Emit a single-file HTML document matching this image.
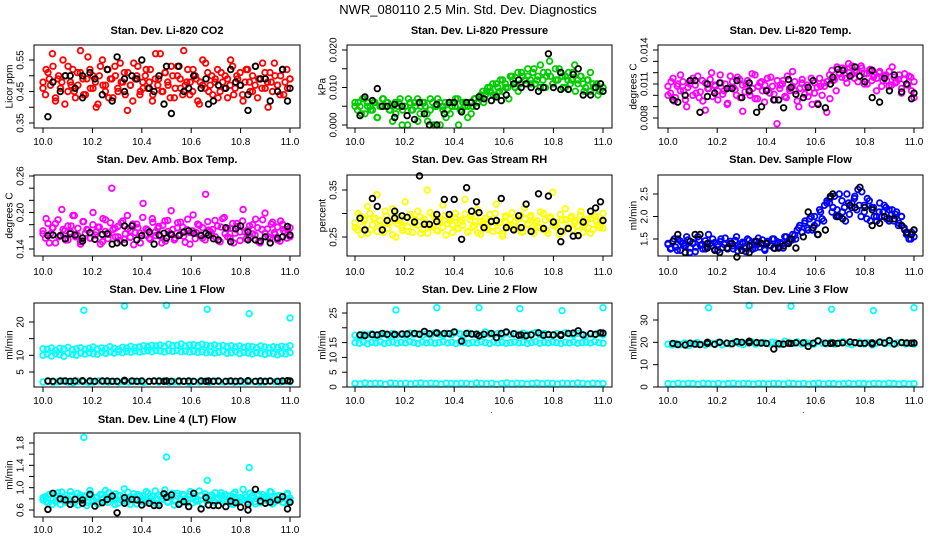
<!DOCTYPE html>
<html><head><meta charset="utf-8">
<style>
html,body{margin:0;padding:0;background:#fff;}
svg{display:block;font-family:"Liberation Sans",Arial,sans-serif;}
</style></head>
<body>
<svg id="chart" width="936" height="540" viewBox="0 0 936 540" xmlns="http://www.w3.org/2000/svg">
<rect x="0" y="0" width="936" height="540" fill="#fff"/>
<text x="468" y="14" text-anchor="middle" font-size="13">NWR_080110  2.5 Min. Std. Dev. Diagnostics</text>
</svg>
<script>
const blackX = [10.02,10.04,10.07,10.09,10.11,10.13,10.16,10.16,10.19,10.21,10.24,10.26,10.28,10.30,10.33,10.33,10.36,10.38,10.40,10.43,10.45,10.47,10.49,10.50,10.52,10.55,10.57,10.59,10.61,10.64,10.66,10.67,10.69,10.71,10.74,10.76,10.78,10.80,10.83,10.83,10.86,10.88,10.90,10.92,10.95,10.97,10.99,11.0];
const xTicks = [10.0,10.2,10.4,10.6,10.8,11.0];
const xTickLabels = ["10.0","10.2","10.4","10.6","10.8","11.0"];
const outlierX = [10.165,10.33,10.5,10.665,10.835,11.0];

const co2 = [46,52,49,57,43,50,48,41,53,47,45,51,58,44,49,52,46,40,50,55,47,43,49,53,45,48,51,39,47,54,50,44,46,52,48,42,57,49,45,51,47,53,43,50,46,58,48,44,52,49,41,47,54,45,50,48,43,51,46,49,55,44,50,47,42,52,48,45,53,49,46,51,40,48,54,47,50,44,52,49];
const co2b = [48,44,51,47,53,42,49,46,55,50,45,48,52,43,47,51,49,44,56,46,50,48,41,53,47,45,52,49,43,50,46,54,48,44,51,47,42,49,53,45,48,50,46,52,44,49,47,57,45,51,48,43,50,46,53,49,44,47,52,48,45,50,42,48,55,46,51,47,44,49,52,45,48,50,43,47,53,46,49,51,44,48,52,45,50,47,43,49,54,46,48,51,45,50,47,44,52,48,46,49];
const co2Black = [37,48,45,50,50,46,43,50,51,49,44,52,42,56,45,49,50,49,55,46,45,50,41,53,38,53,45,46,50,46,49,41,42,47,46,52,48,47,44,39,53,49,49,42,45,52,42,46];
const pres = [5,6,3,7,5,4,6,2,5,7,6,4,5,3,6,0,5,7,4,6,1,5,6,3,7,0,5,6,4,2,6,5,7,0,4,6,5,3,7,6,8,6,9,10,8,11,9,12,10,7,13,11,9,14,12,13,11,15,12,10,14,13,17,11,12,15,13,10,14,12,16,11,13,9,12,14,10,11,9,10];
const presb = [6,4,5,7,3,6,5,4,6,2,5,7,5,6,4,1,6,5,7,4,5,0,6,4,5,7,3,6,5,1,4,6,5,7,0,5,6,4,3,6,5,7,4,6,5,2,6,5,7,6,7,9,8,10,9,11,8,10,12,9,11,10,13,12,10,14,11,13,12,15,12,14,11,13,16,12,10,14,13,11,15,12,14,10,13,12,11,14,9,12,13,11,10,12,9,11,10,8,11,10];
const presBlack = [2.5,7.5,6.5,9.7,5,5,2,5.5,5,2.5,1.5,6,3,0,5.5,0,3,6,6,3.5,6,6,5,7.5,7,6.5,7.5,6.5,8,11,12,10,11,10,9,10,19,10,9.5,14,9.5,13.5,15,8,8,10,11,9];
const ltemp = [100,112,95,108,118,104,90,110,115,102,98,113,87,106,120,109,96,111,104,92,117,107,100,114,86,110,103,119,97,108,112,94,105,116,101,75,109,113,98,106,121,104,90,111,107,99,115,102,93,108,111,85,97,113,104,120,124,115,128,118,122,112,126,119,110,123,116,104,121,113,118,108,125,111,114,102,119,109,116,98];
const ltempb = [108,102,115,98,110,104,112,96,107,113,100,109,117,103,95,111,106,114,99,108,104,118,101,110,93,107,112,105,116,98,109,103,113,100,106,118,97,111,104,109,115,102,108,96,113,106,110,99,117,104,108,112,95,106,114,101,109,103,92,111,107,115,100,108,112,118,122,114,125,119,116,123,111,120,126,115,121,117,124,110,119,122,113,118,115,120,108,117,113,121,109,116,112,118,106,114,110,117,104,112];
const ltempBlack = [96,94,100,113,113,85,110,99,102,111,106,106,113,98,104,111,85,90,104,96,96,89,114,107,101,98,107,113,92,89,110,116,123,122,117,125,117,112,98,122,94,115,104,118,103,110,97,102];
const btemp = [165,190,150,175,182,160,205,170,155,178,195,163,148,185,172,158,200,168,176,152,188,164,240,174,160,183,156,195,170,147,181,166,215,173,158,190,162,177,150,186,169,203,155,175,184,161,172,148,196,167,179,158,230,171,163,187,154,176,192,160,174,150,182,168,205,157,178,165,189,152,172,199,160,181,167,155,186,170,158,175];
const btempb = [170,158,182,165,175,150,188,162,172,155,178,168,195,160,174,152,185,166,171,158,180,163,176,148,190,169,157,183,172,160,177,154,186,165,173,159,181,167,175,150,192,163,171,156,184,168,174,161,179,153,187,166,172,158,183,164,176,151,189,167,170,157,181,163,175,155,185,169,172,160,178,152,190,165,173,158,182,166,177,154,186,168,171,159,180,163,175,150,188,166,173,157,184,164,176,153,181,167,172,160];
const btempBlack = [162,163,162,157,165,163,153,158,167,156,164,165,148,150,178,150,178,155,162,168,148,163,166,158,164,162,168,170,166,162,166,163,157,155,175,152,173,178,155,168,155,153,160,150,158,160,177,163];
const rh = [270,300,255,285,315,265,290,340,275,260,295,280,310,250,285,270,325,262,292,278,305,258,288,350,272,296,264,282,318,254,290,276,300,268,286,330,260,294,274,308,256,284,270,298,262,320,280,252,292,276,302,266,288,260,312,278,296,258,284,270,300,264,290,345,275,256,286,310,268,294,280,262,304,274,288,258,296,282,270,300];
const rhb = [280,265,295,272,288,258,300,276,290,262,285,270,305,268,282,255,296,278,290,264,284,272,298,260,287,275,293,266,281,258,302,274,289,263,286,270,296,278,284,260,292,268,282,275,299,262,287,271,294,259,283,276,290,266,285,272,300,264,281,257,295,273,288,267,284,270,297,261,289,276,292,264,280,272,303,266,286,258,293,275,282,268,298,262,287,271,290,265,284,274,296,260,281,270,289,266,294,275,283,269];
const rhBlack = [290,265,332,315,265,285,305,290,295,292,282,380,277,277,298,283,330,298,330,245,355,305,325,302,270,283,285,332,270,265,295,270,320,262,342,268,337,282,262,240,268,252,253,282,305,312,325,285];
const sflow = [140,130,150,125,145,135,155,120,140,132,148,138,128,160,135,142,125,150,138,130,145,128,155,133,140,122,147,136,130,152,140,128,145,135,150,138,142,130,155,145,160,150,175,165,190,170,200,180,160,210,190,230,240,220,200,250,210,190,230,220,245,260,200,225,240,190,220,200,230,210,220,190,215,205,180,200,170,160,150,170];
const sflowb = [138,128,145,132,150,125,140,135,148,130,142,122,155,136,128,146,133,140,150,126,138,144,131,152,128,140,135,147,124,139,143,130,150,134,127,145,138,132,148,125,141,136,150,129,144,133,139,155,142,150,148,158,170,180,165,185,175,195,170,200,185,215,195,225,235,230,210,245,215,200,235,220,250,205,230,240,215,225,255,210,195,235,220,200,190,210,200,225,195,215,205,190,210,185,200,175,160,150,165,155];
const sflowBlack = [145,160,120,145,160,160,130,140,125,120,130,140,110,125,120,135,145,140,140,130,130,135,140,150,130,155,210,175,160,170,245,250,200,195,225,220,265,220,215,180,185,200,195,195,180,165,160,170];
const l1Upper = [120,118,122,115,121,119,124,117,120,123,118,121,125,119,122,120,126,121,118,124,122,127,123,125,129,126,130,128,131,127,133,129,130,134,128,131,132,129,133,130,128,131,127,130,126,129,125,128,124,127,126,123,128,125,122,126,124,127,125,129];
const l1Lower = [100,104,98,105,102,97,106,103,100,107,104,108,105,103,109,106,110,107,111,108,112,109,113,110,112,114,111,115,113,110,114,112,115,111,113,110,112,109,111,108,110,107,109,112,106,108,111,105,109,107,104,108,106,103,107,105,102,106,104,108];
const l1Low = [20,22,19,21,23,20,18,22,21,19,20,23,21,20,22,19,21,20,22,21,19,21,22,20,23,19,21,20,22,18,21,20,22,19,23,21,20,22,19,21,20,22,21,19,20,23,21,20,22,21];
const l1Out = [235,248,250,238,225,212];
const l1Black = [23,22,23,23,22,23,24,23,23,22,23,23,22,22,25,23,23,22,23,22,23,23,22,23,22,23,22,23,22,23,22,23,22,23,22,23,22,23,23,24,22,23,22,23,22,23,24,23];
const l2Upper = [175,172,178,176,180,174,177,179,173,181,176,178,175,182,177,179,174,180,176,183,178,175,181,177,185,179,176,182,178,180,174,186,179,177,181,175,183,178,180,176,182,177,179,184,176,181,178,175,180,177,183,179,176,181,178,174,180,177,182,176];
const l2Mid = [150,148,152,146,151,149,153,147,150,152,148,151,149,153,150,147,152,149,151,148,150,153,149,151,147,152,150,148,151,149,153,150,147,152,149,151,148,150,152,149,151,147,150,153,148,151,149,152,150,147,151,149,152,148,150,151,149,153,150,148];
const l2Low = [12,10,14,11,13,12,9,14,12,11,13,10,12,14,11,13,12,10,13,12,11,13,12,10,14,12,11,13,9,12,14,11,13,12,10,12,14,11,13,12,10,13,12,11,14,12,10,13,11,12];
const l2Out = [260,268,268,265,258,268];
const l2Black = [176,174,177,176,181,178,177,178,179,179,181,178,188,180,182,183,181,180,186,155,181,179,178,173,178,181,167,181,186,180,175,176,173,176,183,175,177,176,174,177,181,182,190,176,180,178,183,182];
const l3Upper = [192,188,195,190,197,186,193,199,191,188,196,194,200,189,197,193,201,195,190,198,203,192,196,199,194,201,197,190,205,198,195,202,193,199,196,191,204,197,194,200,192,198,203,195,190,197,201,193,199,188,196,202,194,198,191,197,200,193,196,192];
const l3Low = [15,13,17,14,16,15,12,17,15,14,16,13,15,17,14,16,15,13,16,15,14,16,15,13,17,15,14,16,12,15,17,14,16,15,13,15,17,14,16,15,13,16,15,14,17,15,13,16,14,15];
const l3Out = [355,365,362,348,342,355];
const l3Black = [195,190,188,196,192,190,195,200,191,200,196,194,203,200,198,205,199,197,195,170,194,192,196,195,198,198,182,196,207,196,195,197,195,198,202,199,195,196,193,198,201,197,208,193,199,197,196,197];
const l4 = [82,75,88,70,85,78,92,74,80,86,72,90,77,84,68,95,79,83,73,88,76,91,81,70,86,78,98,74,82,89,71,85,79,93,76,84,72,87,80,96,75,83,69,90,78,86,73,88,81,76,94,70,84,79,87,74,82,91,77,85,72,89,80,75,97,83,78,86,71,88,76,84,80,92,74,85,79,73,87,81];
const l4b = [78,84,72,88,80,75,91,70,83,86,77,93,74,81,69,87,79,85,73,90,76,82,71,88,80,95,74,84,78,89,72,86,80,76,92,70,83,79,88,75,85,73,90,81,77,94,71,84,79,87,74,82,90,76,85,72,88,80,78,93,73,84,79,86,71,89,77,83,75,91,80,86,72,88,78,84,70,92,76,82,79,87,74,90,81,75,85,73,88,80,77,93,71,84,79,86,74,82,90,77];
const l4OutX = [10.165,10.5,10.665,10.835];
const l4Out = [190,155,113,136];
const l4Black = [61,90,80,78,70,79,72,78,88,67,73,79,85,55,82,72,79,78,69,72,68,68,89,83,87,70,75,66,90,62,82,69,68,68,66,76,73,65,70,60,97,76,72,74,78,84,62,74];

const NS = "http://www.w3.org/2000/svg";
const svg = document.getElementById('chart');
function mk(tag, attrs, parent){const e=document.createElementNS(NS,tag);for(const k in attrs)e.setAttribute(k,attrs[k]);(parent||svg).appendChild(e);return e;}

const cols = [{f0:34,f1:300,x10:43,x11:290},{f0:347,f1:612,x10:355,x11:603},{f0:658,f1:923,x10:668,x11:914}];
const rows = [{t:45,b:128,title:34,xl:145},{t:175,b:256,title:163,xl:275},{t:303,b:387,title:293,xl:404},{t:433,b:517,title:423,xl:533}];

const panels = [
 {slug:"co2",title:"Stan. Dev. Li-820 CO2",ylab:"Licor ppm",r:0,c:0,yA:0.55,pA:60,yB:0.35,pB:123,ticks:[0.35,0.40,0.45,0.50,0.55],labs:{"0.35":"0.35","0.45":"0.45","0.55":"0.55"},color:"#ff0000",
  series:[{v:co2,s:0.01},{v:co2b,s:0.01}],black:{v:co2Black,s:0.01}},
 {slug:"pressure",title:"Stan. Dev. Li-820 Pressure",ylab:"kPa",r:0,c:1,yA:0.020,pA:50,yB:0.0,pB:125,ticks:[0,0.005,0.010,0.015,0.020],labs:{"0":"0.000","0.01":"0.010","0.02":"0.020"},color:"#00cc00",
  series:[{v:pres,s:0.001},{v:presb,s:0.001}],black:{v:presBlack,s:0.001}},
 {slug:"li820-temp",title:"Stan. Dev. Li-820 Temp.",ylab:"degrees C",r:0,c:2,yA:0.014,pA:50,yB:0.008,pB:118,ticks:[0.008,0.009,0.010,0.011,0.012,0.013,0.014],labs:{"0.008":"0.008","0.011":"0.011","0.014":"0.014"},color:"#ff00ff",
  series:[{v:ltemp,s:0.0001},{v:ltempb,s:0.0001}],black:{v:ltempBlack,s:0.0001}},
 {slug:"box-temp",title:"Stan. Dev. Amb. Box Temp.",ylab:"degrees C",r:1,c:0,yA:0.26,pA:176,yB:0.14,pB:249,ticks:[0.14,0.16,0.18,0.20,0.22,0.24,0.26],labs:{"0.14":"0.14","0.2":"0.20","0.26":"0.26"},color:"#ff00ff",
  series:[{v:btemp,s:0.001},{v:btempb,s:0.001}],black:{v:btempBlack,s:0.001}},
 {slug:"gas-rh",title:"Stan. Dev. Gas Stream RH",ylab:"percent",r:1,c:1,yA:0.35,pA:190,yB:0.25,pB:237,ticks:[0.25,0.30,0.35],labs:{"0.25":"0.25","0.35":"0.35"},color:"#ffff00",
  series:[{v:rh,s:0.001},{v:rhb,s:0.001}],black:{v:rhBlack,s:0.001}},
 {slug:"sample-flow",title:"Stan. Dev. Sample Flow",ylab:"ml/min",r:1,c:2,yA:2.5,pA:194,yB:1.5,pB:239,ticks:[1.5,2.0,2.5],labs:{"1.5":"1.5","2":"2.0","2.5":"2.5"},color:"#0000ff",
  series:[{v:sflow,s:0.01},{v:sflowb,s:0.01}],black:{v:sflowBlack,s:0.01}},
 {slug:"line1-flow",title:"Stan. Dev. Line 1 Flow",ylab:"ml/min",r:2,c:0,yA:20,pA:322,yB:5,pB:372,ticks:[5,10,15,20],labs:{"5":"5","10":"10","20":"20"},color:"#00ffff",
  series:[{v:l1Upper,s:0.1},{v:l1Lower,s:0.1},{v:l1Low,s:0.1},{v:l1Out,s:0.1,x:outlierX}],black:{v:l1Black,s:0.1}},
 {slug:"line2-flow",title:"Stan. Dev. Line 2 Flow",ylab:"ml/min",r:2,c:1,yA:25,pA:313,yB:0,pB:387,ticks:[0,5,10,15,20,25],labs:{"0":"0","5":"5","10":"10","15":"15","25":"25"},color:"#00ffff",
  series:[{v:l2Upper,s:0.1},{v:l2Mid,s:0.1},{v:l2Low,s:0.1},{v:l2Out,s:0.1,x:outlierX}],black:{v:l2Black,s:0.1}},
 {slug:"line3-flow",title:"Stan. Dev. Line 3 Flow",ylab:"ml/min",r:2,c:2,yA:30,pA:320,yB:0,pB:387,ticks:[0,10,20,30],labs:{"0":"0","10":"10","20":"20","30":"30"},color:"#00ffff",
  series:[{v:l3Upper,s:0.1},{v:l3Low,s:0.1},{v:l3Out,s:0.1,x:outlierX}],black:{v:l3Black,s:0.1}},
 {slug:"line4-flow",title:"Stan. Dev. Line 4 (LT) Flow",ylab:"ml/min",r:3,c:0,yA:1.8,pA:443,yB:0.6,pB:510,ticks:[0.6,0.8,1.0,1.2,1.4,1.6,1.8],labs:{"0.6":"0.6","1":"1.0","1.4":"1.4","1.8":"1.8"},color:"#00ffff",
  series:[{v:l4,s:0.01},{v:l4b,s:0.01},{v:l4Out,s:0.01,x:l4OutX}],black:{v:l4Black,s:0.01}}
];

panels.forEach(p=>{
  const col=cols[p.c], row=rows[p.r];
  const xs = v => col.x10 + (v-10)*(col.x11-col.x10);
  const ys = v => p.pB + (v-p.yB)*(p.pA-p.pB)/(p.yA-p.yB);
  const g = mk('g',{});
  
  
  const title = mk('text',{x:(col.f0+col.f1)/2,y:row.title,'text-anchor':'middle','font-size':11,'font-weight':'bold'},g);
  title.textContent=p.title;
  
  
  const pts = mk('g',{fill:'none','stroke-width':1.8},g);
  
  
  p.series.forEach(s=>{
    s.v.forEach((v,i)=>{
      const xv = s.x ? s.x[i] : 10 + i/(s.v.length-1);
      const c = mk('circle',{cx:xs(xv).toFixed(1),cy:ys(v*s.s).toFixed(1),r:2.8,stroke:p.color},pts);
      
      
    });
  });
  p.black.v.forEach((v,i)=>{
    const c = mk('circle',{cx:xs(blackX[i]).toFixed(1),cy:ys(v*p.black.s).toFixed(1),r:2.8,stroke:'#000'},pts);
    
    
  });
  const frame = mk('rect',{x:col.f0,y:row.t,width:col.f1-col.f0,height:row.b-row.t,fill:'none',stroke:'#000','stroke-width':1},g);
  
  
  const ya = mk('g',{},g);
  
  
  p.ticks.forEach(t=>{
    const y=ys(t);
    mk('line',{x1:col.f0-5,x2:col.f0,y1:y,y2:y,stroke:'#000'},ya);
    const key=String(Math.round(t*100000)/100000);
    if(p.labs[key]){
      const lx=col.f0-14;
      const tx=mk('text',{x:lx,y:y,'text-anchor':'middle','font-size':10,transform:`rotate(-90 ${lx} ${y})`,dy:'0.35em'},ya);
      tx.textContent=p.labs[key];
      
      
    }
  });
  const yl = mk('text',{x:col.f0-25,y:(row.t+row.b)/2,'text-anchor':'middle','font-size':10,transform:`rotate(-90 ${col.f0-25} ${(row.t+row.b)/2})`,dy:'0.35em'},ya);
  yl.textContent=p.ylab;
  
  
  const xa = mk('g',{},g);
  
  
  mk('line',{x1:xs(10),x2:xs(11),y1:row.b,y2:row.b,stroke:'#000'},xa);
  xTicks.forEach((t,i)=>{
    const x=xs(t);
    mk('line',{x1:x,x2:x,y1:row.b,y2:row.b+5,stroke:'#000'},xa);
    const tx=mk('text',{x:x,y:row.xl,'text-anchor':'middle','font-size':10},xa);
    tx.textContent=xTickLabels[i];
    
    
  });
  const dot=mk('text',{x:xs(10.55),y:row.xl+9,'text-anchor':'middle','font-size':8},xa);
  dot.textContent='.';
  
  
});
</script>
</body></html>
